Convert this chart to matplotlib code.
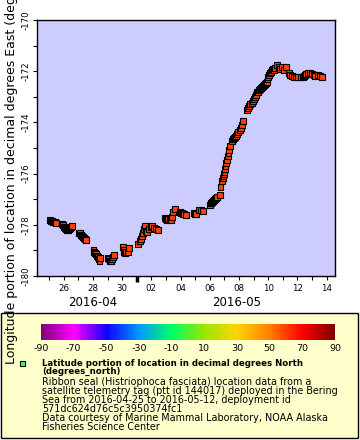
import matplotlib
matplotlib.use("Agg")
import matplotlib.pyplot as plt
import matplotlib.dates as mdates
from matplotlib.colors import LinearSegmentedColormap, Normalize
from matplotlib.patches import Rectangle
from matplotlib.ticker import MultipleLocator
import pandas as pd

plt.rcParams["axes.unicode_minus"] = False

# days after 2016-04-25 00:00 UTC, and longitude (degrees East)
days = [
    0.06, 0.13, 0.20, 0.27, 0.34, 0.40, 0.47,
    0.88, 0.95, 1.02, 1.08, 1.15, 1.22, 1.29, 1.36, 1.42, 1.49, 1.56,
    2.05, 2.12, 2.18, 2.25, 2.32, 2.39, 2.46, 2.53,
    3.05, 3.08, 3.14, 3.21, 3.28, 3.35, 3.40, 3.44, 3.49,
    4.03, 4.10, 4.17, 4.24, 4.31, 4.38, 4.45,
    5.06, 5.08, 5.13, 5.20, 5.27, 5.40, 5.47,
    6.09, 6.23, 6.29, 6.36, 6.43, 6.50, 6.55, 6.64, 6.71, 6.84, 6.98, 7.05, 7.18, 7.32, 7.45,
    7.94, 8.01, 8.08, 8.15, 8.29, 8.35, 8.42, 8.49, 8.62,
    8.97, 9.03, 9.10, 9.17, 9.24, 9.38,
    9.92, 9.99, 10.06, 10.27, 10.40, 10.54,
    11.02, 11.09, 11.16, 11.22, 11.29, 11.36, 11.43, 11.50, 11.70, 11.74,
    11.84, 11.91, 11.93, 11.98, 12.00, 12.05, 12.07, 12.12, 12.19, 12.26, 12.28, 12.32, 12.39,
    12.53, 12.60, 12.67, 12.73, 12.80, 12.87, 12.94, 13.07, 13.14, 13.21, 13.28,
    13.56, 13.62, 13.69, 13.76, 13.90, 13.97, 14.03, 14.10, 14.17, 14.24,
    14.31, 14.37, 14.44, 14.51, 14.58, 14.65, 14.72, 14.79, 14.85, 14.92,
    14.96, 14.99, 15.06, 15.13, 15.20, 15.27, 15.33,
    15.40, 15.47, 15.60, 15.74, 15.81, 15.95, 16.09, 16.22,
    16.43, 16.50, 16.64, 16.77, 16.91, 17.05, 17.25,
    17.40, 17.47, 17.53, 17.60, 17.74, 17.88, 18.01, 18.15, 18.22, 18.42, 18.56, 18.70,
]
lons = [
    -177.81, -177.85, -177.85, -177.89, -177.89, -177.89, -177.93,
    -177.97, -178.01, -178.09, -178.13, -178.16, -178.20, -178.20, -178.16, -178.13, -178.09, -178.05,
    -178.32, -178.32, -178.40, -178.44, -178.48, -178.52, -178.55, -178.59,
    -178.98, -179.06, -179.10, -179.14, -179.22, -179.26, -179.34, -179.41, -179.30,
    -179.30, -179.34, -179.41, -179.41, -179.34, -179.26, -179.18,
    -178.87, -178.98, -179.06, -179.10, -179.06, -179.06, -178.91,
    -178.75, -178.63, -178.55, -178.44, -178.32, -178.16, -178.05, -178.24, -178.28, -178.16, -178.09, -178.05, -178.13, -178.16, -178.20,
    -177.73, -177.77, -177.81, -177.77, -177.77, -177.81, -177.70, -177.50, -177.38,
    -177.50, -177.54, -177.54, -177.58, -177.58, -177.62,
    -177.54, -177.58, -177.58, -177.42, -177.42, -177.46,
    -177.23, -177.15, -177.11, -177.07, -177.03, -176.99, -176.95, -176.91, -176.84, -176.52,
    -176.29, -176.17, -176.09, -176.02, -175.94, -175.82, -175.70, -175.59, -175.47, -175.31, -175.20, -175.08, -174.92,
    -174.73, -174.65, -174.61, -174.57, -174.53, -174.45, -174.38, -174.30, -174.22, -174.10, -173.95,
    -173.52, -173.44, -173.36, -173.28, -173.24, -173.16, -173.09, -173.01, -172.93, -172.81,
    -172.81, -172.73, -172.70, -172.66, -172.62, -172.58, -172.54, -172.50, -172.46, -172.42,
    -172.30, -172.23, -172.15, -172.07, -172.03, -171.95, -171.91,
    -171.95, -171.88, -171.76, -171.84, -171.91, -171.84, -171.95, -171.84,
    -172.07, -172.15, -172.19, -172.23, -172.23, -172.23, -172.23,
    -172.23, -172.19, -172.15, -172.11, -172.07, -172.07, -172.11, -172.15, -172.19, -172.15, -172.19, -172.23,
]
# latitude colours the markers; the track stays close to this value
lat_value = 59.5

cbar_ticks = [-90, -70, -50, -30, -10, 10, 30, 50, 70, 90]
rainbow = ["#800080", "#ff00ff", "#1000ff", "#0098ff", "#00ff66",
           "#99e600", "#ffd500", "#ff8000", "#ff0000", "#800000"]

legend_lines = [
    "Ribbon seal (Histriophoca fasciata) location data from a",
    "satellite telemetry tag (ptt id 144017) deployed in the Bering",
    "Sea from 2016-04-25 to 2016-05-12, deployment id",
    "571dc624d76c5c3950374fc1",
    "Data courtesy of Marine Mammal Laboratory, NOAA Alaska",
    "Fisheries Science Center",
]

base = pd.Timestamp("2016-04-25")
times = base + pd.to_timedelta(days, unit="D")
tnum = mdates.date2num(times.to_pydatetime())

cmap = LinearSegmentedColormap.from_list("erddap_rainbow", rainbow)
norm = Normalize(-90, 90)

W, H = 360, 440
fig = plt.figure(figsize=(W / 100, H / 100), dpi=100)

def fx(px):
    return px / W

def fy(py):
    return 1 - py / H

# legend box goes underneath everything
fig.patches.append(Rectangle((fx(1), fy(438)), fx(357), 125 / H, transform=fig.transFigure,
                             facecolor="#ffffcc", edgecolor="black", lw=1, zorder=-5))

ax = fig.add_axes([fx(37), fy(276), fx(298), 256 / H])
ax.set_facecolor("#ccccff")
ax.scatter(tnum, lons, marker="s", s=16, c=[cmap(norm(lat_value))] * len(tnum),
           edgecolors="black", linewidths=0.8, zorder=3)

left = mdates.date2num((base + pd.Timedelta(days=-0.83)).to_pydatetime())
right = mdates.date2num((base + pd.Timedelta(days=19.58)).to_pydatetime())
ax.set_xlim(left, right)
ax.set_ylim(-180, -170)

ax.xaxis.set_major_locator(mdates.DayLocator(bymonthday=range(2, 32, 2)))
ax.xaxis.set_major_formatter(mdates.DateFormatter("%d"))
ax.xaxis.set_minor_locator(mdates.DayLocator())
ax.set_yticks(range(-180, -169, 2))
ax.yaxis.set_minor_locator(MultipleLocator(1))
ax.tick_params(axis="both", which="both", direction="out", length=3, width=0.8,
               labelsize=6.2, colors="black")
ax.tick_params(axis="x", pad=2.5)
ax.tick_params(axis="y", labelrotation=90, pad=1.5)
for lab in ax.get_yticklabels():
    lab.set_verticalalignment("center")
for sp in ax.spines.values():
    sp.set_linewidth(1.0)

# month boundary marker
may1 = mdates.date2num(pd.Timestamp("2016-05-01").to_pydatetime())
ax.plot([may1, may1], [0, -0.025], transform=ax.get_xaxis_transform(),
        color="black", lw=2.5, solid_capstyle="butt", clip_on=False)

# month labels
for d, s in [("2016-04-28 00:00", "2016-04"), ("2016-05-07 20:00", "2016-05")]:
    ax.text(mdates.date2num(pd.Timestamp(d).to_pydatetime()), -0.102, s,
            transform=ax.get_xaxis_transform(), ha="center", va="center",
            fontsize=8.5)

cax = fig.add_axes([fx(41), fy(340), fx(294), 16 / H])
cb = fig.colorbar(plt.cm.ScalarMappable(norm=norm, cmap=cmap), cax=cax,
                  orientation="horizontal")
cb.set_ticks(cbar_ticks)
cb.outline.set_visible(False)
cax.tick_params(length=0, labelsize=6.8, pad=3)

fig.patches.append(Rectangle((fx(19.5), fy(366)), fx(5.5), 5.5 / H, transform=fig.transFigure,
                             facecolor="#33ff66", edgecolor="black", lw=0.8, zorder=2))

fig.text(fx(42), fy(363.3), "Latitude portion of location in decimal degrees North",
         fontsize=6.2, fontweight="bold", va="center", ha="left")
fig.text(fx(42), fy(371.7), "(degrees_north)", fontsize=6.2, fontweight="bold",
         va="center", ha="left")
for i, line in enumerate(legend_lines):
    fig.text(fx(42), fy(381.7 + 9.0 * i), line, fontsize=6.9, va="center", ha="left")

fig.text(fx(12), fy(364), "Longitude portion of location in decimal degrees East (degrees_east)",
         rotation=90, ha="center", va="bottom", fontsize=9)

fig.savefig("out.png", dpi=100)
